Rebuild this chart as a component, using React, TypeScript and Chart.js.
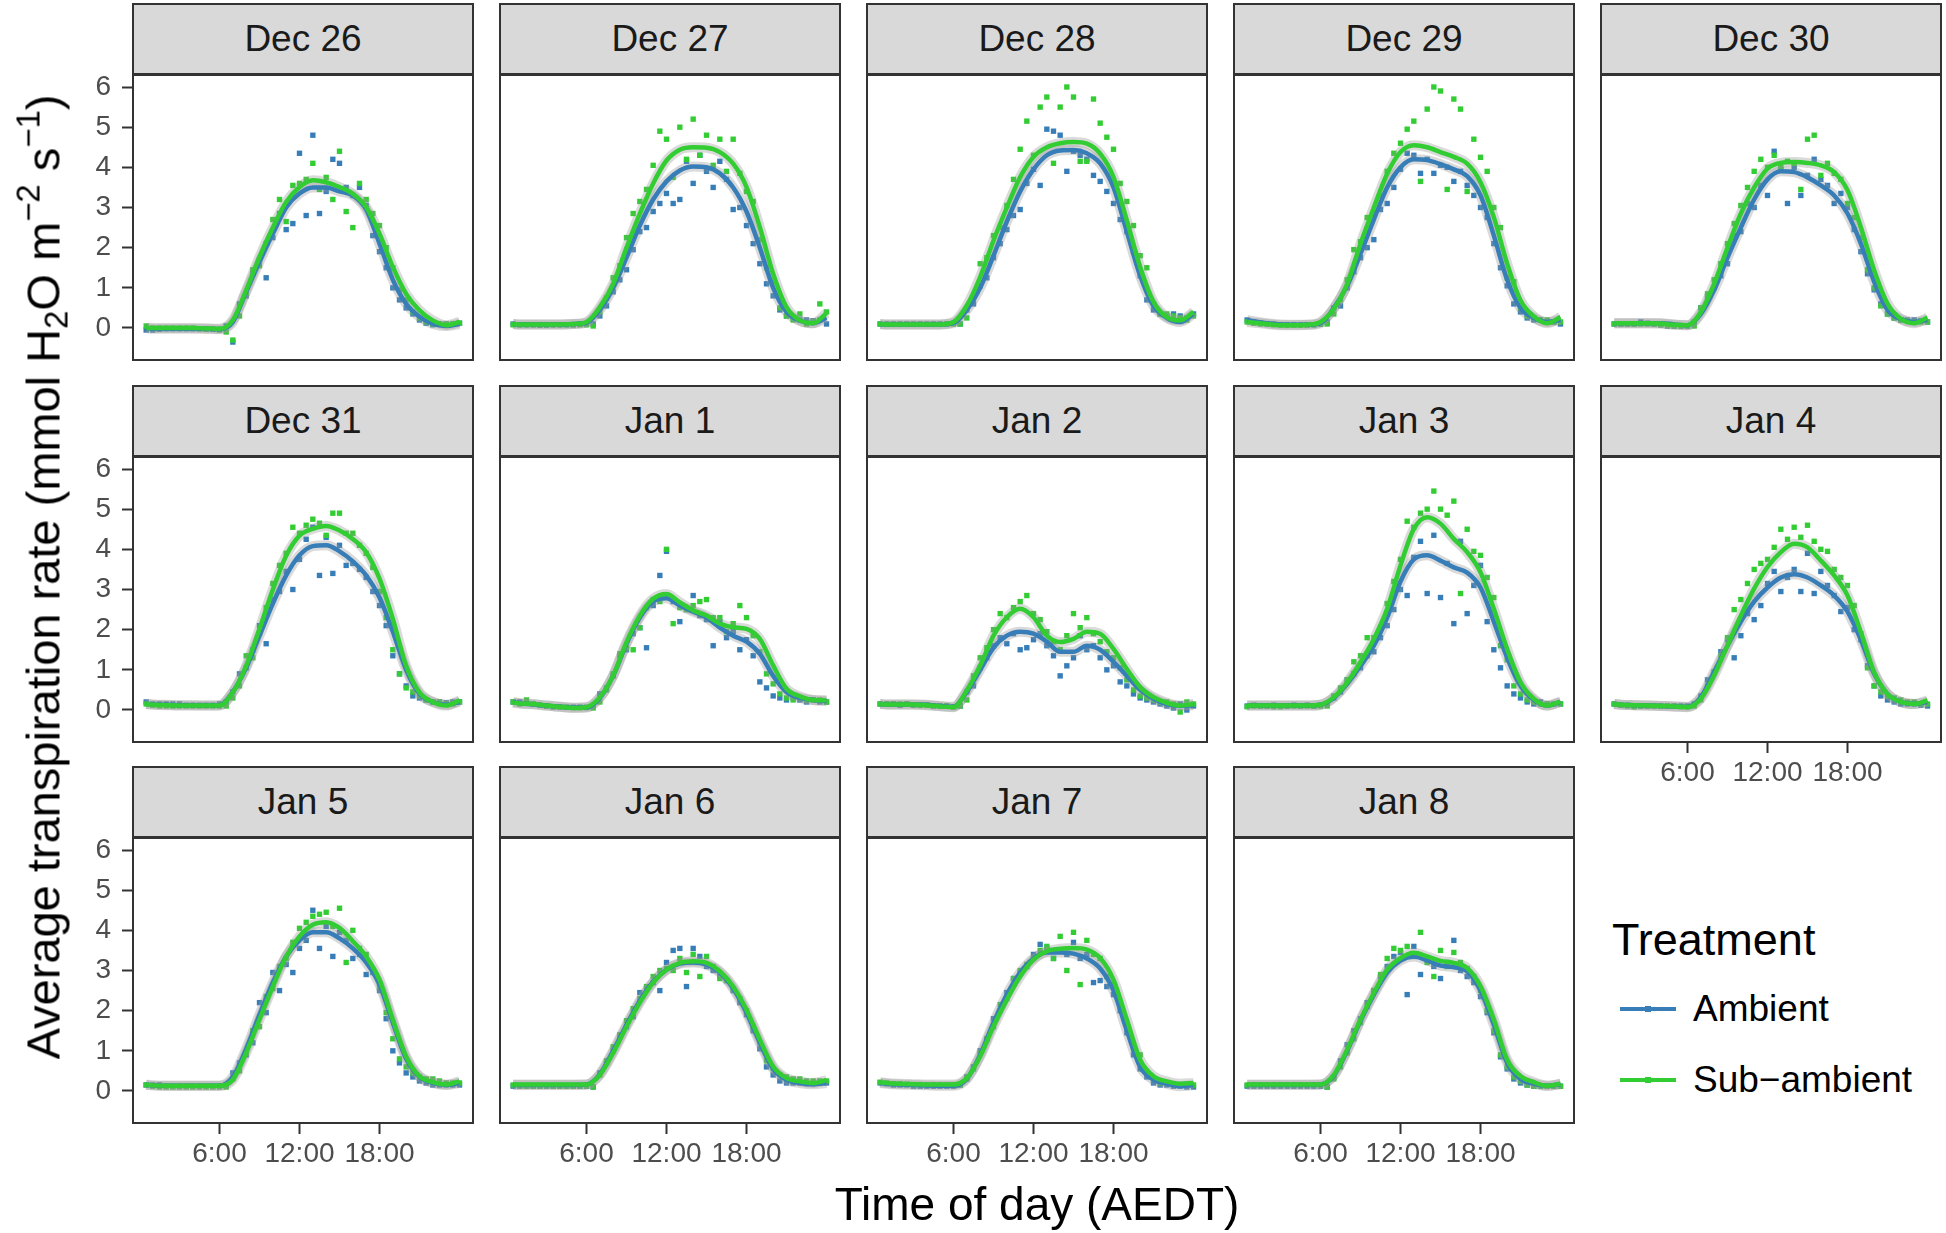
import React, { useEffect, useRef } from "react";
import { Chart, registerables } from "chart.js";

Chart.register(...registerables);

const FONT = '"Liberation Sans", Arial, Helvetica, sans-serif';
const AMB_COLOR = "#377EB8";
const SUB_COLOR = "#32CD32";
const BAND_COLOR = "rgba(150,150,150,0.35)";

// ---------- data ----------
const DAY_LABELS = [
  "Dec 26", "Dec 27", "Dec 28", "Dec 29", "Dec 30",
  "Dec 31", "Jan 1", "Jan 2", "Jan 3", "Jan 4",
  "Jan 5", "Jan 6", "Jan 7", "Jan 8",
];
const SERIES_NAMES = ["Ambient", "Sub\u2212ambient"];
const X_TICKS = [6, 12, 18];
const X_TICK_LABELS = ["6:00", "12:00", "18:00"];
const Y_TICKS = [0, 1, 2, 3, 4, 5, 6];

// observation times (hours of day)
const POINT_X = [
  0.5, 1, 1.5, 2, 2.5, 3, 3.5, 4, 4.5, 5, 5.5, 6,
  6.5, 7, 7.5, 8, 8.5, 9, 9.5, 10, 10.5, 11, 11.5, 12,
  12.5, 13, 13.5, 14, 14.5, 15, 15.5, 16, 16.5, 17, 17.5, 18,
  18.5, 19, 19.5, 20, 20.5, 21, 21.5, 22, 22.5, 23, 23.5, 24,
];
// smoother evaluation times (hours of day)
const SMOOTH_X = [0.5, 1, 2, 3, 4, 5, 6, 7, 8, 9, 10, 11, 12, 13, 14, 15, 16, 17, 18, 19, 20, 21, 22, 23, 24];

// Dec 26
const dec26AmbLine = [0.0, -0.02, -0.02, -0.02, -0.02, -0.02, -0.03, 0.15, 0.9, 1.65, 2.35, 3.0, 3.35, 3.5, 3.5, 3.4, 3.3, 2.95, 2.1, 1.2, 0.6, 0.28, 0.1, 0.05, 0.1];
const dec26SubLine = [0.0, 0.0, 0.0, 0.0, 0.0, -0.01, -0.02, 0.2, 0.94, 1.77, 2.5, 3.14, 3.51, 3.68, 3.63, 3.51, 3.34, 3.01, 2.35, 1.52, 0.85, 0.44, 0.19, 0.07, 0.15];
const dec26AmbPts = [-0.05, -0.05, -0.03, -0.02, -0.02, -0.02, -0.02, -0.02, -0.02, -0.03, -0.03, -0.03, 0.05, -0.35, 0.6, 0.8, 1.35, 1.7, 1.25, 2.25, 2.85, 2.45, 2.6, 4.35, 2.8, 4.8, 2.85, 3.4, 4.2, 4.1, 3.5, 3.3, 3.5, 3.05, 2.3, 1.9, 1.5, 1.0, 0.7, 0.5, 0.35, 0.2, 0.12, 0.08, 0.1, 0.1, 0.1, 0.12];
const dec26SubPts = [0.05, 0, 0, 0, 0, 0, 0, 0, -0.02, -0.02, -0.02, -0.05, -0.1, -0.3, 0.3, 0.85, 1.45, 1.55, 2.1, 2.7, 3.2, 2.65, 3.55, 3.6, 3.7, 4.1, 3.45, 3.75, 3.2, 4.4, 2.9, 2.5, 3.6, 3.2, 2.85, 2.55, 2.0, 1.5, 0.95, 0.7, 0.4, 0.25, 0.15, 0.1, 0.1, 0.1, 0.1, 0.12];

// Dec 27
const dec27AmbLine = [0.1, 0.09, 0.09, 0.09, 0.09, 0.1, 0.13, 0.45, 1.0, 1.75, 2.55, 3.2, 3.65, 3.92, 4.02, 4.0, 3.85, 3.5, 2.9, 2.0, 1.0, 0.4, 0.18, 0.12, 0.25];
const dec27SubLine = [0.1, 0.09, 0.09, 0.09, 0.09, 0.1, 0.15, 0.52, 1.1, 2.0, 2.85, 3.6, 4.17, 4.44, 4.5, 4.49, 4.38, 4.09, 3.51, 2.51, 1.35, 0.52, 0.19, 0.12, 0.37];
const dec27AmbPts = [0.1, 0.08, 0.08, 0.08, 0.07, 0.07, 0.08, 0.08, 0.08, 0.08, 0.1, 0.1, 0.1, 0.3, 0.55, 0.9, 1.2, 1.45, 1.95, 2.4, 2.5, 2.9, 3.1, 3.35, 3.1, 3.2, 4.15, 3.6, 4.3, 3.9, 3.5, 4.15, 3.7, 2.95, 3.0, 2.55, 2.1, 1.6, 1.1, 0.8, 0.45, 0.3, 0.25, 0.2, 0.2, 0.18, 0.2, 0.1];
const dec27SubPts = [0.08, 0.08, 0.08, 0.08, 0.08, 0.08, 0.08, 0.08, 0.08, 0.08, 0.08, 0.08, 0.05, 0.4, 0.75, 1.25, 1.55, 2.25, 2.85, 3.15, 3.45, 4.05, 4.9, 4.7, 3.75, 5.0, 4.2, 5.2, 4.3, 4.8, 4.05, 4.7, 3.9, 4.7, 3.85, 3.4, 3.15, 2.2, 1.5, 1.15, 0.5, 0.3, 0.2, 0.35, 0.1, 0.15, 0.6, 0.4];

// Dec 28
const dec28AmbLine = [0.1, 0.09, 0.09, 0.09, 0.09, 0.09, 0.12, 0.45, 1.0, 1.8, 2.65, 3.4, 3.95, 4.3, 4.42, 4.43, 4.35, 4.1, 3.5, 2.4, 1.3, 0.55, 0.25, 0.15, 0.35];
const dec28SubLine = [0.1, 0.09, 0.09, 0.09, 0.09, 0.09, 0.15, 0.56, 1.27, 2.18, 3.0, 3.76, 4.26, 4.5, 4.6, 4.63, 4.59, 4.34, 3.76, 2.68, 1.52, 0.65, 0.27, 0.19, 0.4];
const dec28AmbPts = [0.1, 0.1, 0.1, 0.1, 0.1, 0.1, 0.1, 0.1, 0.1, 0.1, 0.1, 0.12, 0.1, 0.45, 0.6, 1.05, 1.25, 1.75, 2.1, 2.45, 2.8, 2.95, 3.6, 3.95, 3.55, 4.95, 4.9, 4.8, 3.9, 4.4, 4.3, 4.2, 3.8, 3.65, 3.4, 3.1, 2.7, 2.4, 1.9, 1.3, 0.7, 0.45, 0.35, 0.3, 0.35, 0.3, 0.25, 0.35];
const dec28SubPts = [0.1, 0.09, 0.09, 0.09, 0.09, 0.09, 0.09, 0.09, 0.09, 0.09, 0.1, 0.1, 0.1, 0.25, 0.75, 1.6, 1.75, 2.3, 2.5, 3.05, 3.7, 4.45, 5.15, 4.3, 5.5, 5.75, 4.1, 5.5, 6.0, 5.75, 4.15, 4.15, 5.7, 5.1, 4.75, 4.45, 3.6, 3.15, 2.55, 1.8, 1.5, 0.6, 0.35, 0.35, 0.3, 0.25, 0.2, 0.3];

// Dec 29
const dec29AmbLine = [0.2, 0.17, 0.12, 0.09, 0.08, 0.08, 0.12, 0.5, 1.05, 1.85, 2.7, 3.5, 4.0, 4.2, 4.18, 4.08, 3.95, 3.78, 3.3, 2.3, 1.2, 0.5, 0.25, 0.15, 0.2];
const dec29SubLine = [0.15, 0.13, 0.1, 0.07, 0.07, 0.08, 0.15, 0.48, 1.1, 2.1, 3.0, 3.84, 4.38, 4.55, 4.5, 4.38, 4.26, 4.09, 3.63, 2.76, 1.6, 0.69, 0.29, 0.12, 0.27];
const dec29AmbPts = [0.2, 0.15, 0.12, 0.1, 0.1, 0.08, 0.08, 0.08, 0.08, 0.08, 0.08, 0.1, 0.15, 0.5, 0.55, 1.0, 1.4, 1.75, 2.0, 2.2, 2.95, 3.1, 3.5, 3.95, 4.35, 4.3, 3.85, 4.2, 3.85, 4.05, 4.0, 3.65, 3.9, 3.55, 3.3, 3.0, 2.75, 2.1, 1.5, 1.05, 0.6, 0.4, 0.25, 0.2, 0.2, 0.15, 0.15, 0.1];
const dec29SubPts = [0.15, 0.12, 0.1, 0.1, 0.08, 0.08, 0.07, 0.07, 0.07, 0.07, 0.08, 0.1, 0.1, 0.35, 0.7, 1.2, 1.95, 2.15, 2.75, 2.85, 3.3, 3.9, 4.35, 4.6, 4.95, 5.15, 3.65, 5.45, 6.0, 5.9, 3.45, 5.7, 5.45, 3.4, 4.7, 4.25, 3.9, 3.0, 2.5, 1.25, 1.15, 0.5, 0.3, 0.25, 0.2, 0.2, 0.15, 0.15];

// Dec 30
const dec30AmbLine = [0.12, 0.12, 0.12, 0.12, 0.12, 0.09, 0.07, 0.35, 0.95, 1.75, 2.5, 3.2, 3.7, 3.9, 3.88, 3.75, 3.55, 3.3, 2.85, 2.1, 1.15, 0.45, 0.22, 0.15, 0.2];
const dec30SubLine = [0.12, 0.12, 0.12, 0.12, 0.11, 0.08, 0.07, 0.4, 1.1, 2.0, 2.85, 3.5, 3.97, 4.11, 4.13, 4.11, 4.05, 3.88, 3.43, 2.51, 1.44, 0.61, 0.23, 0.12, 0.26];
const dec30AmbPts = [0.1, 0.1, 0.1, 0.1, 0.15, 0.12, 0.1, 0.08, 0.05, 0.05, 0.05, 0.05, 0.15, 0.5, 0.75, 1.0, 1.3, 1.6, 2.3, 2.4, 3.1, 3.0, 3.55, 3.3, 4.4, 3.95, 3.1, 4.0, 3.3, 3.8, 4.2, 3.7, 3.55, 3.1, 3.35, 3.0, 2.45, 1.9, 1.35, 0.95, 0.6, 0.35, 0.25, 0.2, 0.2, 0.2, 0.18, 0.15];
const dec30SubPts = [0.1, 0.1, 0.1, 0.1, 0.1, 0.1, 0.1, 0.08, 0.06, 0.05, 0.05, 0.05, 0.05, 0.5, 0.85, 1.2, 1.6, 2.1, 2.6, 3.05, 3.5, 3.9, 4.2, 4.0, 4.3, 4.0, 4.15, 4.1, 3.45, 4.7, 4.8, 3.8, 4.1, 3.85, 3.7, 3.1, 2.75, 2.25, 1.45, 1.0, 0.55, 0.35, 0.25, 0.2, 0.18, 0.15, 0.15, 0.15];

// Dec 31
const dec31AmbLine = [0.15, 0.14, 0.13, 0.12, 0.12, 0.11, 0.12, 0.45, 1.05, 1.85, 2.65, 3.35, 3.85, 4.08, 4.1, 3.95, 3.7, 3.35, 2.8, 1.95, 1.0, 0.4, 0.2, 0.13, 0.2];
const dec31SubLine = [0.15, 0.13, 0.12, 0.11, 0.11, 0.11, 0.11, 0.44, 1.1, 2.02, 3.0, 3.84, 4.34, 4.51, 4.58, 4.47, 4.26, 3.93, 3.27, 2.27, 1.1, 0.44, 0.2, 0.11, 0.24];
const dec31AmbPts = [0.2, 0.15, 0.15, 0.15, 0.15, 0.15, 0.12, 0.12, 0.12, 0.12, 0.12, 0.15, 0.2, 0.45, 0.9, 1.05, 1.5, 2.1, 1.65, 2.75, 2.95, 3.45, 3.0, 3.75, 4.25, 4.55, 3.35, 4.3, 3.4, 4.1, 3.6, 3.65, 3.5, 3.3, 2.95, 2.6, 2.1, 1.35, 0.9, 0.6, 0.35, 0.3, 0.25, 0.2, 0.2, 0.18, 0.2, 0.2];
const dec31SubPts = [0.15, 0.12, 0.1, 0.1, 0.1, 0.1, 0.1, 0.1, 0.1, 0.1, 0.1, 0.1, 0.1, 0.3, 0.6, 1.35, 1.3, 1.9, 2.55, 3.15, 3.6, 3.9, 4.55, 4.4, 4.6, 4.75, 4.65, 4.35, 4.9, 4.9, 4.4, 4.4, 4.1, 3.9, 3.55, 2.95, 2.3, 1.5, 0.9, 0.55, 0.45, 0.35, 0.25, 0.2, 0.2, 0.15, 0.15, 0.2];

// Jan 1
const jan1AmbLine = [0.2, 0.17, 0.14, 0.11, 0.08, 0.06, 0.06, 0.3, 0.85, 1.65, 2.3, 2.7, 2.78, 2.6, 2.45, 2.3, 2.05, 1.85, 1.7, 1.4, 0.85, 0.45, 0.3, 0.25, 0.22];
const jan1SubLine = [0.18, 0.16, 0.15, 0.11, 0.08, 0.05, 0.07, 0.32, 0.86, 1.69, 2.35, 2.77, 2.89, 2.68, 2.48, 2.35, 2.15, 2.06, 2.02, 1.77, 1.11, 0.53, 0.34, 0.25, 0.24];
const jan1AmbPts = [0.2, 0.2, 0.18, 0.15, 0.12, 0.1, 0.08, 0.08, 0.07, 0.07, 0.07, 0.07, 0.1, 0.4, 0.55, 0.85, 1.35, 1.5, 1.9, 2.05, 1.55, 2.6, 3.35, 3.95, 2.7, 2.2, 2.5, 2.85, 2.35, 2.25, 1.6, 2.2, 1.8, 1.95, 1.5, 1.75, 1.35, 0.7, 0.55, 0.35, 0.3, 0.25, 0.3, 0.25, 0.2, 0.25, 0.2, 0.2];
const jan1SubPts = [0.2, 0.15, 0.25, 0.15, 0.12, 0.1, 0.08, 0.07, 0.07, 0.06, 0.06, 0.06, 0.05, 0.2, 0.5, 0.9, 1.4, 1.55, 1.5, 2.05, 2.55, 2.75, 2.7, 4.0, 2.15, 2.55, 2.5, 2.6, 2.7, 2.75, 2.3, 2.3, 1.95, 2.15, 2.6, 2.3, 1.85, 1.45, 0.9, 0.65, 0.4, 0.3, 0.25, 0.3, 0.25, 0.25, 0.25, 0.2];

// Jan 2
const jan2AmbLine = [0.15, 0.14, 0.14, 0.14, 0.13, 0.1, 0.08, 0.45, 1.0, 1.55, 1.85, 1.95, 1.9, 1.7, 1.45, 1.45, 1.6, 1.5, 1.2, 0.85, 0.5, 0.28, 0.15, 0.1, 0.12];
const jan2SubLine = [0.15, 0.14, 0.14, 0.14, 0.12, 0.09, 0.07, 0.49, 1.11, 1.85, 2.31, 2.52, 2.31, 1.85, 1.69, 1.77, 1.95, 1.9, 1.52, 1.02, 0.57, 0.32, 0.18, 0.11, 0.15];
const jan2AmbPts = [0.15, 0.15, 0.15, 0.12, 0.15, 0.12, 0.12, 0.12, 0.1, 0.1, 0.1, 0.08, 0.1, 0.45, 0.6, 1.05, 1.3, 1.6, 1.8, 1.65, 1.9, 1.5, 1.55, 1.75, 1.9, 1.6, 1.35, 0.85, 1.1, 1.3, 1.85, 1.5, 1.6, 1.3, 1.0, 1.1, 0.7, 0.6, 0.4, 0.3, 0.25, 0.2, 0.15, 0.1, 0.05, 0.15, 0.0, 0.1];
const jan2SubPts = [0.15, 0.15, 0.15, 0.15, 0.15, 0.12, 0.12, 0.12, 0.1, 0.1, 0.1, 0.08, 0.1, 0.25, 0.85, 1.3, 1.55, 2.0, 2.4, 2.3, 2.55, 2.7, 2.85, 2.4, 2.25, 1.95, 1.7, 1.5, 1.85, 2.4, 2.05, 2.3, 1.9, 1.7, 1.45, 1.3, 1.05, 0.75, 0.5, 0.35, 0.3, 0.25, 0.2, 0.2, 0.15, -0.05, 0.2, 0.15];

// Jan 3
const jan3AmbLine = [0.11, 0.11, 0.11, 0.11, 0.11, 0.11, 0.13, 0.3, 0.65, 1.1, 1.6, 2.3, 3.2, 3.75, 3.85, 3.72, 3.55, 3.42, 3.05, 2.2, 1.3, 0.6, 0.25, 0.11, 0.2];
const jan3SubLine = [0.11, 0.11, 0.11, 0.11, 0.11, 0.11, 0.13, 0.32, 0.69, 1.19, 1.77, 2.52, 3.6, 4.51, 4.8, 4.64, 4.26, 3.93, 3.43, 2.52, 1.52, 0.69, 0.28, 0.11, 0.21];
const jan3AmbPts = [0.1, 0.12, 0.1, 0.1, 0.12, 0.1, 0.1, 0.12, 0.1, 0.12, 0.1, 0.12, 0.15, 0.3, 0.45, 0.75, 0.9, 1.05, 1.35, 1.45, 1.8, 2.1, 2.5, 3.0, 2.85, 3.8, 4.2, 2.9, 4.35, 2.8, 3.65, 2.15, 4.2, 2.4, 3.1, 3.6, 2.2, 1.5, 1.05, 0.6, 0.4, 0.3, 0.2, 0.15, 0.2, 0.15, 0.15, 0.15];
const jan3SubPts = [0.08, 0.1, 0.1, 0.1, 0.08, 0.08, 0.1, 0.1, 0.1, 0.1, 0.1, 0.1, 0.1, 0.35, 0.55, 0.75, 1.2, 1.35, 1.8, 1.8, 2.05, 2.65, 3.2, 3.75, 4.7, 4.55, 4.9, 5.0, 5.45, 5.0, 4.85, 5.2, 2.9, 4.5, 3.95, 3.85, 3.3, 2.8, 1.6, 1.25, 0.6, 0.4, 0.25, 0.2, 0.15, 0.15, 0.15, 0.15];

// Jan 4
const jan4AmbLine = [0.15, 0.13, 0.12, 0.11, 0.1, 0.09, 0.08, 0.32, 0.95, 1.6, 2.2, 2.7, 3.05, 3.3, 3.38, 3.3, 3.1, 2.85, 2.45, 1.75, 0.9, 0.4, 0.2, 0.15, 0.2];
const jan4SubLine = [0.15, 0.13, 0.12, 0.11, 0.1, 0.09, 0.07, 0.28, 0.86, 1.61, 2.35, 3.02, 3.56, 3.93, 4.14, 4.05, 3.72, 3.35, 2.85, 1.94, 0.94, 0.4, 0.2, 0.15, 0.24];
const jan4AmbPts = [0.15, 0.12, 0.12, 0.1, 0.1, 0.1, 0.1, 0.1, 0.1, 0.1, 0.1, 0.1, 0.15, 0.35, 0.75, 0.95, 1.45, 1.75, 1.3, 1.85, 2.4, 2.25, 2.6, 3.15, 3.45, 2.95, 3.3, 3.5, 2.95, 3.9, 2.9, 3.45, 3.1, 2.85, 2.45, 2.55, 2.0, 1.75, 1.1, 0.6, 0.35, 0.25, 0.2, 0.15, 0.15, 0.15, 0.12, 0.1];
const jan4SubPts = [0.15, 0.12, 0.1, 0.08, 0.1, 0.1, 0.1, 0.1, 0.1, 0.1, 0.08, 0.08, 0.1, 0.25, 0.6, 0.95, 1.35, 1.8, 2.5, 2.75, 3.15, 3.5, 3.65, 3.75, 4.05, 4.5, 4.25, 4.55, 4.3, 4.6, 4.2, 4.0, 3.95, 3.5, 3.3, 3.1, 2.6, 1.9, 1.05, 0.6, 0.45, 0.35, 0.3, 0.25, 0.2, 0.2, 0.15, 0.15];

// Jan 5
const jan5AmbLine = [0.15, 0.14, 0.13, 0.13, 0.13, 0.13, 0.13, 0.35, 1.05, 1.9, 2.7, 3.35, 3.75, 3.95, 3.95, 3.8, 3.55, 3.2, 2.65, 1.7, 0.8, 0.35, 0.2, 0.15, 0.2];
const jan5SubLine = [0.16, 0.14, 0.13, 0.13, 0.13, 0.13, 0.13, 0.28, 0.95, 1.78, 2.6, 3.35, 3.85, 4.14, 4.2, 4.06, 3.73, 3.35, 2.77, 1.78, 0.86, 0.37, 0.22, 0.16, 0.24];
const jan5AmbPts = [0.15, 0.15, 0.15, 0.12, 0.12, 0.12, 0.12, 0.12, 0.12, 0.12, 0.12, 0.12, 0.15, 0.45, 0.7, 0.9, 1.2, 2.2, 1.95, 2.95, 2.5, 3.15, 2.95, 3.55, 3.75, 4.5, 3.55, 4.1, 3.35, 3.95, 3.75, 3.3, 3.4, 2.9, 2.95, 2.5, 1.8, 1.0, 0.7, 0.45, 0.35, 0.25, 0.2, 0.15, 0.15, 0.15, 0.15, 0.15];
const jan5SubPts = [0.15, 0.12, 0.1, 0.1, 0.1, 0.1, 0.1, 0.1, 0.1, 0.1, 0.1, 0.1, 0.1, 0.3, 0.5, 0.95, 1.5, 1.6, 2.35, 2.55, 3.1, 3.3, 3.7, 4.05, 4.2, 4.35, 4.4, 4.45, 4.1, 4.55, 3.2, 4.0, 3.55, 3.4, 3.0, 2.6, 1.95, 1.3, 0.8, 0.6, 0.45, 0.35, 0.3, 0.3, 0.25, 0.2, 0.2, 0.2];

// Jan 6
const jan6AmbLine = [0.15, 0.15, 0.15, 0.15, 0.15, 0.15, 0.16, 0.42, 1.0, 1.65, 2.25, 2.72, 3.02, 3.17, 3.2, 3.15, 2.95, 2.55, 1.95, 1.2, 0.55, 0.28, 0.2, 0.17, 0.2];
const jan6SubLine = [0.16, 0.16, 0.16, 0.16, 0.16, 0.16, 0.16, 0.4, 0.95, 1.6, 2.2, 2.7, 3.02, 3.19, 3.23, 3.19, 2.98, 2.6, 2.02, 1.28, 0.61, 0.32, 0.24, 0.2, 0.27];
const jan6AmbPts = [0.12, 0.12, 0.12, 0.12, 0.12, 0.12, 0.12, 0.12, 0.12, 0.12, 0.12, 0.12, 0.1, 0.45, 0.7, 1.0, 1.35, 1.6, 1.85, 2.45, 2.55, 2.7, 2.5, 3.2, 3.5, 3.55, 2.6, 3.55, 3.35, 3.1, 3.0, 2.85, 2.75, 2.5, 2.2, 1.9, 1.5, 1.05, 0.6, 0.4, 0.25, 0.2, 0.2, 0.2, 0.18, 0.18, 0.2, 0.2];
const jan6SubPts = [0.15, 0.13, 0.12, 0.12, 0.12, 0.13, 0.12, 0.12, 0.12, 0.12, 0.12, 0.13, 0.1, 0.4, 0.75, 1.1, 1.4, 1.75, 2.05, 2.3, 2.6, 2.85, 3.0, 3.05, 3.0, 3.3, 2.95, 3.4, 2.85, 3.35, 3.1, 2.8, 2.75, 2.55, 2.3, 2.0, 1.6, 1.2, 0.75, 0.55, 0.4, 0.35, 0.3, 0.3, 0.25, 0.25, 0.25, 0.25];

// Jan 7
const jan7AmbLine = [0.2, 0.18, 0.16, 0.15, 0.14, 0.13, 0.13, 0.3, 0.9, 1.7, 2.4, 2.95, 3.3, 3.45, 3.45, 3.42, 3.3, 3.05, 2.5, 1.5, 0.6, 0.28, 0.18, 0.12, 0.15];
const jan7SubLine = [0.22, 0.2, 0.18, 0.17, 0.16, 0.16, 0.16, 0.32, 0.86, 1.61, 2.27, 2.85, 3.27, 3.48, 3.54, 3.56, 3.52, 3.31, 2.77, 1.78, 0.78, 0.37, 0.24, 0.18, 0.2];
const jan7AmbPts = [0.2, 0.18, 0.15, 0.15, 0.15, 0.12, 0.12, 0.12, 0.12, 0.12, 0.12, 0.12, 0.15, 0.35, 0.6, 1.0, 1.3, 1.8, 2.0, 2.45, 2.8, 2.95, 3.1, 3.4, 3.65, 3.55, 3.3, 3.5, 3.4, 3.7, 3.3, 3.4, 2.7, 2.75, 2.6, 2.4, 2.0, 1.45, 0.9, 0.55, 0.35, 0.2, 0.15, 0.15, 0.12, 0.12, 0.1, 0.1];
const jan7SubPts = [0.22, 0.2, 0.18, 0.18, 0.17, 0.16, 0.16, 0.15, 0.15, 0.15, 0.15, 0.15, 0.15, 0.3, 0.55, 0.95, 1.3, 1.6, 2.15, 2.3, 2.8, 3.0, 3.15, 3.3, 3.5, 3.6, 3.3, 3.85, 3.0, 3.95, 2.65, 3.75, 3.4, 3.3, 2.85, 2.65, 2.2, 1.6, 1.05, 0.9, 0.45, 0.3, 0.2, 0.2, 0.18, 0.15, 0.15, 0.15];

// Jan 8
const jan8AmbLine = [0.15, 0.15, 0.15, 0.15, 0.15, 0.15, 0.16, 0.38, 1.0, 1.75, 2.4, 2.95, 3.25, 3.35, 3.25, 3.12, 3.08, 2.98, 2.5, 1.65, 0.7, 0.3, 0.18, 0.13, 0.17];
const jan8SubLine = [0.16, 0.16, 0.16, 0.16, 0.16, 0.16, 0.16, 0.4, 1.03, 1.78, 2.44, 3.02, 3.31, 3.44, 3.35, 3.24, 3.19, 3.06, 2.61, 1.78, 0.78, 0.37, 0.22, 0.13, 0.18];
const jan8AmbPts = [0.12, 0.12, 0.12, 0.12, 0.12, 0.12, 0.12, 0.12, 0.12, 0.12, 0.12, 0.12, 0.1, 0.35, 0.75, 1.15, 1.5, 1.8, 2.2, 2.5, 2.85, 3.1, 3.35, 3.45, 2.4, 3.6, 2.9, 3.25, 3.1, 2.8, 3.2, 3.75, 3.0, 2.85, 2.7, 2.35, 1.95, 1.45, 0.85, 0.55, 0.3, 0.2, 0.15, 0.12, 0.12, 0.12, 0.12, 0.12];
const jan8SubPts = [0.15, 0.15, 0.15, 0.15, 0.15, 0.15, 0.15, 0.15, 0.15, 0.15, 0.15, 0.15, 0.1, 0.3, 0.6, 0.95, 1.3, 1.7, 2.1, 2.5, 2.9, 3.3, 3.55, 3.5, 3.6, 3.35, 3.95, 3.2, 2.85, 3.5, 3.1, 3.45, 3.2, 3.05, 2.85, 2.5, 2.0, 1.5, 0.9, 0.6, 0.35, 0.25, 0.15, 0.12, 0.12, 0.12, 0.12, 0.12];

const AMB_LINES = [dec26AmbLine, dec27AmbLine, dec28AmbLine, dec29AmbLine, dec30AmbLine, dec31AmbLine, jan1AmbLine, jan2AmbLine, jan3AmbLine, jan4AmbLine, jan5AmbLine, jan6AmbLine, jan7AmbLine, jan8AmbLine];
const SUB_LINES = [dec26SubLine, dec27SubLine, dec28SubLine, dec29SubLine, dec30SubLine, dec31SubLine, jan1SubLine, jan2SubLine, jan3SubLine, jan4SubLine, jan5SubLine, jan6SubLine, jan7SubLine, jan8SubLine];
const AMB_PTS = [dec26AmbPts, dec27AmbPts, dec28AmbPts, dec29AmbPts, dec30AmbPts, dec31AmbPts, jan1AmbPts, jan2AmbPts, jan3AmbPts, jan4AmbPts, jan5AmbPts, jan6AmbPts, jan7AmbPts, jan8AmbPts];
const SUB_PTS = [dec26SubPts, dec27SubPts, dec28SubPts, dec29SubPts, dec30SubPts, dec31SubPts, jan1SubPts, jan2SubPts, jan3SubPts, jan4SubPts, jan5SubPts, jan6SubPts, jan7SubPts, jan8SubPts];

// ---------- layout ----------
const COL_LEFT = [132, 499, 866, 1233, 1600];
const ROW_TOP = [3, 385, 766];
const PANEL_W = 342;
const STRIP_H = 72;
const PANEL_OFF = 71;
const PANEL_H = 287;
const M_L = 60;
const M_B = 70;
const X_MIN = -0.5625;
const X_MAX = 25.0875;
const Y_MIN = -0.8216;
const Y_MAX = 6.3237;
const TICK_FONT = 28;

const borderPlugin = {
  id: "panelBorder",
  afterDraw(chart: any) {
    const { ctx, chartArea: a } = chart;
    ctx.save();
    ctx.strokeStyle = "#333333";
    ctx.lineWidth = 2;
    ctx.strokeRect(a.left + 1, a.top + 1, a.right - a.left - 2, a.bottom - a.top - 2);
    ctx.restore();
  },
};

function toXY(xs: number[], ys: number[]) {
  return xs
    .map((x, i) => ({ x, y: ys[i] }))
    .filter((p) => typeof p.y === "number");
}

function zeroPad(s: any) {
  s.paddingTop = 0;
  s.paddingBottom = 0;
  s.paddingLeft = 0;
  s.paddingRight = 0;
}

function Panel({ index }: { index: number }) {
  const ref = useRef<HTMLCanvasElement | null>(null);
  const col = index % 5;
  const row = Math.floor(index / 5);
  const showY = col === 0;
  const showX = index >= 9;
  const left = COL_LEFT[col] - M_L;
  const top = ROW_TOP[row] + PANEL_OFF;
  const w = PANEL_W + M_L;
  const h = PANEL_H + M_B;

  useEffect(() => {
    if (!ref.current) return;
    const lineBase = { showLine: true, pointRadius: 0, fill: false, cubicInterpolationMode: "monotone" as const };
    const ptBase = { showLine: false, pointStyle: "rect" as const, pointRadius: 3.8, pointBorderWidth: 0 };
    const chart = new Chart(ref.current, {
      type: "scatter",
      data: {
        datasets: [
          { ...lineBase, label: SERIES_NAMES[1], data: toXY(SMOOTH_X, SUB_LINES[index]), borderColor: SUB_COLOR, borderWidth: 4.5, order: 0 },
          { ...lineBase, label: SERIES_NAMES[0], data: toXY(SMOOTH_X, AMB_LINES[index]), borderColor: AMB_COLOR, borderWidth: 4.5, order: 1 },
          { ...lineBase, label: "se2", data: toXY(SMOOTH_X, SUB_LINES[index]), borderColor: BAND_COLOR, borderWidth: 10, order: 2 },
          { ...lineBase, label: "se1", data: toXY(SMOOTH_X, AMB_LINES[index]), borderColor: BAND_COLOR, borderWidth: 10, order: 3 },
          { ...ptBase, label: SERIES_NAMES[1] + " pts", data: toXY(POINT_X, SUB_PTS[index]), pointBackgroundColor: SUB_COLOR, backgroundColor: SUB_COLOR, order: 4 },
          { ...ptBase, label: SERIES_NAMES[0] + " pts", data: toXY(POINT_X, AMB_PTS[index]), pointBackgroundColor: AMB_COLOR, backgroundColor: AMB_COLOR, order: 5 },
        ] as any,
      },
      options: {
        animation: false,
        responsive: false,
        maintainAspectRatio: false,
        devicePixelRatio: 1,
        layout: { padding: 0, autoPadding: false },
        events: [],
        plugins: { legend: { display: false }, tooltip: { enabled: false }, title: { display: false } },
        scales: {
          x: {
            type: "linear",
            min: X_MIN,
            max: X_MAX,
            afterBuildTicks: (s: any) => {
              s.ticks = X_TICKS.map((v) => ({ value: v }));
            },
            afterFit: (s: any) => {
              s.height = M_B;
              zeroPad(s);
            },
            ticks: {
              display: showX,
              autoSkip: false,
              maxRotation: 0,
              padding: 3,
              color: "#4D4D4D",
              font: { family: FONT, size: TICK_FONT },
              callback: (v: any) => {
                const i = X_TICKS.indexOf(Number(v));
                return i >= 0 ? X_TICK_LABELS[i] : "";
              },
            },
            grid: { display: showX, drawOnChartArea: false, drawTicks: showX, tickLength: 10, tickWidth: 2, tickColor: "#333333" },
            border: { display: false },
          },
          y: {
            type: "linear",
            min: Y_MIN,
            max: Y_MAX,
            afterBuildTicks: (s: any) => {
              s.ticks = Y_TICKS.map((v) => ({ value: v }));
            },
            afterFit: (s: any) => {
              s.width = M_L;
              zeroPad(s);
            },
            ticks: {
              display: showY,
              autoSkip: false,
              padding: 11,
              color: "#4D4D4D",
              font: { family: FONT, size: TICK_FONT },
              callback: (v: any) => String(v),
            },
            grid: { display: showY, drawOnChartArea: false, drawTicks: showY, tickLength: 10, tickWidth: 2, tickColor: "#333333" },
            border: { display: false },
          },
        },
      } as any,
      plugins: [borderPlugin],
    });
    return () => chart.destroy();
  }, [index]);

  return (
    <canvas
      ref={ref}
      width={w}
      height={h}
      style={{ position: "absolute", left, top, width: w, height: h }}
    />
  );
}

function Strip({ index }: { index: number }) {
  const col = index % 5;
  const row = Math.floor(index / 5);
  return (
    <div
      style={{
        position: "absolute",
        left: COL_LEFT[col],
        top: ROW_TOP[row],
        width: PANEL_W,
        height: STRIP_H,
        boxSizing: "border-box",
        border: "2px solid #333333",
        background: "#D9D9D9",
        color: "#1A1A1A",
        fontSize: 37,
        lineHeight: `${STRIP_H - 4}px`,
        textAlign: "center",
        whiteSpace: "nowrap",
      }}
    >
      {DAY_LABELS[index]}
    </div>
  );
}

export default function App() {
  useEffect(() => {
    document.body.style.margin = "0";
    document.body.style.background = "#ffffff";
  }, []);
  const supStyle: React.CSSProperties = { fontSize: "70%", verticalAlign: "0.6em", lineHeight: 0 };
  const subStyle: React.CSSProperties = { fontSize: "70%", verticalAlign: "-0.25em", lineHeight: 0 };
  return (
    <div
      style={{
        position: "absolute",
        left: 0,
        top: 0,
        width: 1946,
        height: 1233,
        background: "#ffffff",
        fontFamily: FONT,
        overflow: "hidden",
      }}
    >
      {DAY_LABELS.map((_, i) => (
        <Strip key={"s" + i} index={i} />
      ))}
      {DAY_LABELS.map((_, i) => (
        <Panel key={"p" + i} index={i} />
      ))}

      {/* y axis title */}
      <div
        style={{
          position: "absolute",
          left: 43,
          top: 577,
          transform: "translate(-50%, -50%) rotate(-90deg)",
          whiteSpace: "nowrap",
          fontSize: 47,
          lineHeight: 1,
          color: "#000",
        }}
      >
        Average transpiration rate (mmol H<span style={subStyle}>2</span>O m
        <span style={supStyle}>{"\u22122"}</span> s<span style={supStyle}>{"\u22121"}</span>)
      </div>

      {/* x axis title */}
      <div
        style={{
          position: "absolute",
          left: 1037,
          top: 1204,
          transform: "translate(-50%, -50%)",
          whiteSpace: "nowrap",
          fontSize: 46,
          lineHeight: 1,
          color: "#000",
        }}
      >
        Time of day (AEDT)
      </div>

      {/* legend */}
      <div style={{ position: "absolute", left: 1612, top: 914, fontSize: 45, lineHeight: "52px", whiteSpace: "nowrap", color: "#000" }}>
        Treatment
      </div>
      {[AMB_COLOR, SUB_COLOR].map((c, i) => {
        const cy = i === 0 ? 1009 : 1080;
        return (
          <React.Fragment key={"lg" + i}>
            <div style={{ position: "absolute", left: 1620, top: cy - 2, width: 56, height: 4, background: c }} />
            <div style={{ position: "absolute", left: 1645, top: cy - 3, width: 6, height: 6, background: c }} />
            <div
              style={{
                position: "absolute",
                left: 1693,
                top: cy - 22,
                height: 44,
                lineHeight: "44px",
                fontSize: 37,
                whiteSpace: "nowrap",
                color: "#000",
              }}
            >
              {SERIES_NAMES[i]}
            </div>
          </React.Fragment>
        );
      })}
    </div>
  );
}
